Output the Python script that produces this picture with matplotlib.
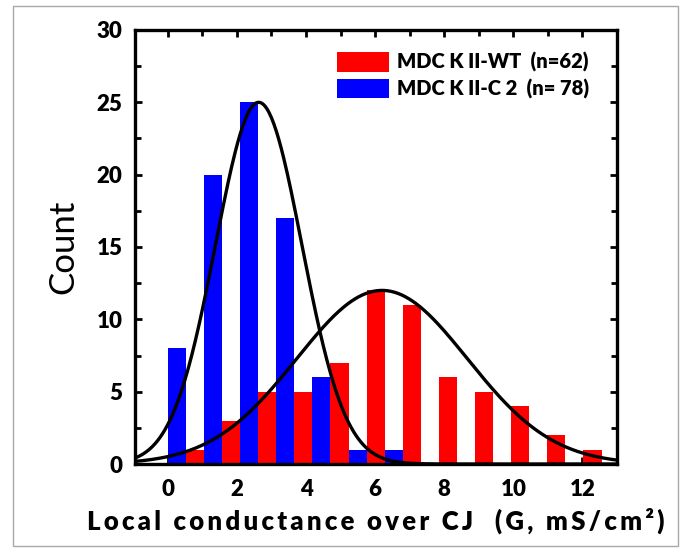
import numpy as np
import matplotlib
matplotlib.use("Agg")
import matplotlib.pyplot as plt
from matplotlib.ticker import MultipleLocator
from matplotlib.patches import Rectangle

# --- Daten ---
BIN_WIDTH = 1.046
bin_number = np.arange(12)
wt_counts = [1, 3, 5, 5, 7, 12, 11, 6, 5, 4, 2, 1]      # MDCK II-WT, n=62
c2_counts = [8, 20, 25, 17, 6, 1, 1, 0, 0, 0, 0, 0]     # MDCK II-C2, n=78

# Gauss-Fits: (Amplitude, Mittelwert, Sigma)
wt_fit = (12.0, 6.2, 2.47)
c2_fit = (25.0, 2.63, 1.25)

wt_label = "MDC K II-WT  (n=62)"
c2_label = "MDC K II-C 2  (n= 78)"
x_title = "Local conductance over CJ  (G, mS/cm\u00b2)"


def gauss(x, amp, mu, sigma):
    return amp * np.exp(-(x - mu) ** 2 / (2 * sigma ** 2))


plt.rcParams["font.family"] = ["Lato", "DejaVu Sans"]

fig = plt.figure(figsize=(6.86, 5.53), dpi=100)
ax = fig.add_axes([0.1968, 0.1609, 0.7026, 0.7849])

# Rahmen um die ganze Abbildung
fig.patches.append(Rectangle((13 / 686, 1 - 546 / 553), 665 / 686, 540 / 553,
                             transform=fig.transFigure, fill=False,
                             edgecolor="#a8a8a8", linewidth=1))

half = BIN_WIDTH / 2
left = bin_number * BIN_WIDTH
ax.bar(left, c2_counts, width=half, align="edge", color="#0000ff",
       label=c2_label, zorder=2)
ax.bar(left + half, wt_counts, width=half, align="edge", color="#ff0000",
       label=wt_label, zorder=2)

xs = np.linspace(-0.95, 13, 400)
ax.plot(xs, gauss(xs, *c2_fit), color="black", linewidth=2.4, zorder=3)
ax.plot(xs, gauss(xs, *wt_fit), color="black", linewidth=2.4, zorder=3)

ax.set_xlim(-0.95, 13)
ax.set_ylim(0, 30)
ax.xaxis.set_major_locator(MultipleLocator(2))
ax.xaxis.set_minor_locator(MultipleLocator(1))
ax.yaxis.set_major_locator(MultipleLocator(5))
ax.yaxis.set_minor_locator(MultipleLocator(2.5))

ax.tick_params(which="both", direction="in", top=True, right=True, width=2)
ax.tick_params(which="major", length=5)
ax.tick_params(which="minor", length=4)
ax.tick_params(axis="x", which="major", pad=11, labelsize=16)
ax.tick_params(axis="y", which="major", pad=9, labelsize=16)
for lab in ax.get_xticklabels() + ax.get_yticklabels():
    lab.set_fontweight("heavy")

for sp in ax.spines.values():
    sp.set_linewidth(2.4)

# gesperrte Schrift wie im Original
spaced = "\u2009".join(x_title)
ax.set_xlabel(spaced, fontsize=18.5, fontweight="heavy", labelpad=5)
ax.set_ylabel("Count", fontsize=25, labelpad=12)

handles, labels = ax.get_legend_handles_labels()
ax.legend(handles[::-1], labels[::-1], loc="upper right",
          bbox_to_anchor=(0.98, 0.99), frameon=False,
          prop={"size": 14.5, "weight": "heavy"},
          handlelength=2.6, handleheight=1.1, handletextpad=0.4,
          labelspacing=0.3)

fig.savefig("out.png", dpi=100)
